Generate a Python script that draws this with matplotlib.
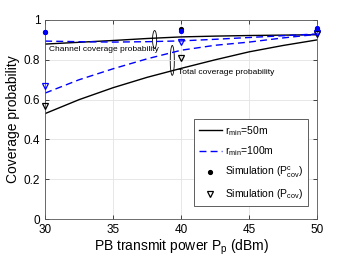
import numpy as np
import matplotlib
matplotlib.use("Agg")
import matplotlib.pyplot as plt
from matplotlib.patches import Ellipse

plt.rcParams['font.family'] = ['Liberation Sans', 'DejaVu Sans']
plt.rcParams['mathtext.fontset'] = 'custom'
plt.rcParams['mathtext.rm'] = 'Liberation Sans'
plt.rcParams['mathtext.it'] = 'Liberation Sans'

# PB transmit power (dBm)
power = [30, 32.5, 35, 37.5, 40, 42.5, 45, 47.5, 50]
# analytical curves
chan_r50 = [0.879, 0.888, 0.897, 0.907, 0.915, 0.919, 0.922, 0.924, 0.926]
chan_r100 = [0.894, 0.891, 0.889, 0.891, 0.895, 0.903, 0.912, 0.921, 0.930]
total_r50 = [0.530, 0.600, 0.660, 0.712, 0.757, 0.800, 0.840, 0.872, 0.900]
total_r100 = [0.633, 0.700, 0.755, 0.805, 0.848, 0.873, 0.889, 0.910, 0.928]

# simulation points
sim_power = [30, 40, 50]
sim_chan_r50 = [0.940, 0.957, 0.955]
sim_chan_r100 = [0.940, 0.945, 0.960]
sim_total_r50 = [0.570, 0.810, 0.930]
sim_total_r100 = [0.667, 0.889, 0.935]

fig = plt.figure(figsize=(3.5, 2.63), dpi=100)
ax = fig.add_axes([0.129, 0.167, 0.777, 0.757])

l1, = ax.plot(power, chan_r50, 'k-', lw=1.0)
ax.plot(power, total_r50, 'k-', lw=1.0)
l2, = ax.plot(power, chan_r100, 'b--', lw=1.0, dashes=(5, 3))
ax.plot(power, total_r100, 'b--', lw=1.0, dashes=(5, 3))

ax.plot(sim_power, sim_chan_r50, 'k.', ms=5.5, clip_on=False, zorder=4)
ax.plot(sim_power, sim_chan_r100, 'b.', ms=5.5, clip_on=False, zorder=4)
ax.plot(sim_power, sim_total_r50, 'kv', ms=4.5, mfc='none', mew=0.9, clip_on=False, zorder=4)
ax.plot(sim_power, sim_total_r100, 'bv', ms=4.5, mfc='none', mew=0.9, clip_on=False, zorder=4)

# dummy handles for legend markers
h3, = ax.plot([], [], 'k.', ms=5.5)
h4, = ax.plot([], [], 'kv', ms=4.5, mfc='none', mew=0.9)

ax.add_patch(Ellipse((38.05, 0.902), 0.3, 0.09, fill=False, lw=0.6, ec='k'))
ax.add_patch(Ellipse((39.35, 0.797), 0.3, 0.15, fill=False, lw=0.6, ec='k'))
ax.text(30.25, 0.852, 'Channel coverage probability', fontsize=6, va='center', ha='left')
ax.text(39.8, 0.737, 'Total coverage probability', fontsize=6, va='center', ha='left')

ax.set_xlim(30, 50)
ax.set_ylim(0, 1)
ax.set_xticks([30, 35, 40, 45, 50])
ax.set_yticks([0, 0.2, 0.4, 0.6, 0.8, 1])
ax.set_yticklabels(['0', '0.2', '0.4', '0.6', '0.8', '1'])
ax.tick_params(direction='in', labelsize=8.5, length=3, width=0.5, top=True, right=True)
ax.grid(True, color='#e3e3e3', lw=0.6)
for s in ax.spines.values():
    s.set_linewidth(0.6)
    s.set_color('#555555')

ax.set_xlabel('PB transmit power P$_{\\rm p}$ (dBm)', fontsize=10, labelpad=1)
ax.set_ylabel('Coverage probability', fontsize=10, labelpad=3)

leg = ax.legend([l1, l2, h3, h4],
                ['r$_{\\rm min}$=50m', 'r$_{\\rm min}$=100m',
                 'Simulation (P$^{\\rm c}_{\\rm cov}$)', 'Simulation (P$_{\\rm cov}$)'],
                loc='lower right', bbox_to_anchor=(0.985, 0.04), fontsize=7.5,
                fancybox=False, framealpha=1, edgecolor='#444444',
                handlelength=2.2, handletextpad=0.3, borderpad=0.45, labelspacing=0.65)
leg.get_frame().set_linewidth(0.6)

fig.savefig('out.png', dpi=100)
